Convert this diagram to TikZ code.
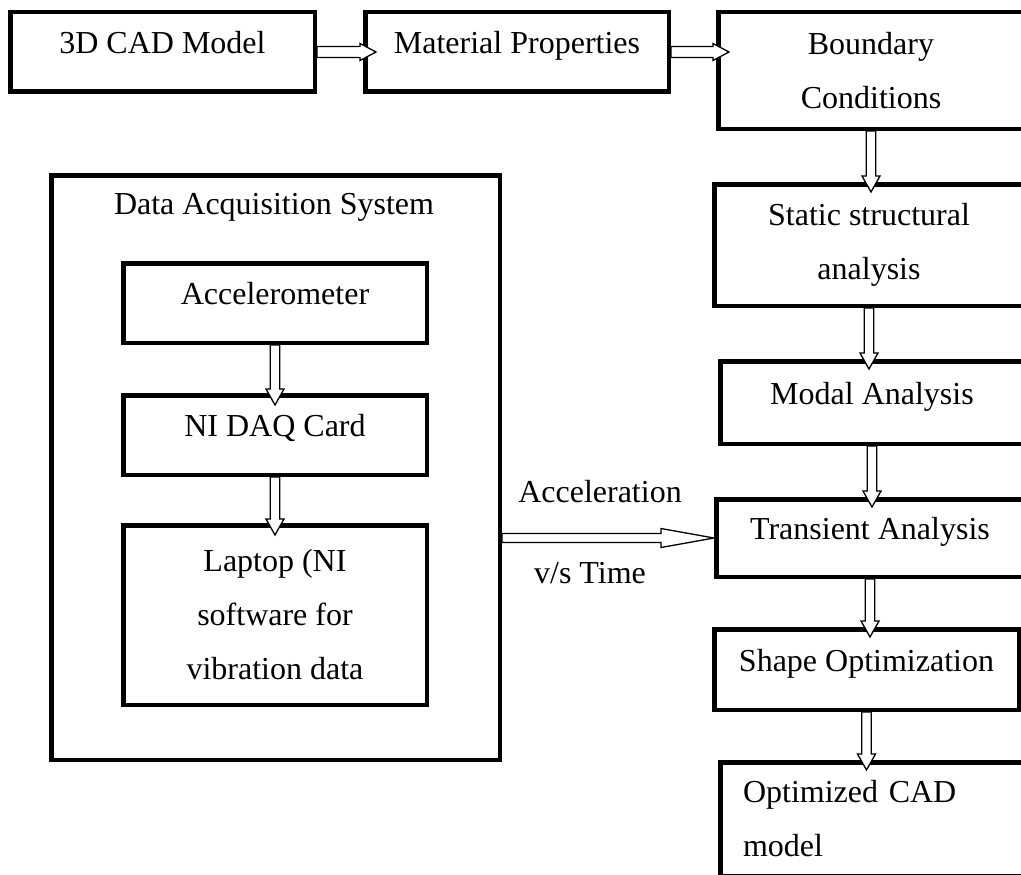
\documentclass[tikz,border=0pt]{standalone}
\usepackage{fontspec}
\setmainfont{Liberation Serif}
\usetikzlibrary{calc}

\begin{document}
\begin{tikzpicture}[
      x=1pt, y=-1pt,
      every node/.style={font=\fontsize{32}{54}\selectfont},
      box/.style={draw, line width=4.5pt, inner sep=0pt, align=center},
      sz/.style 2 args={minimum width=#1pt, minimum height=#2pt},
      one/.style={text height=22pt, text depth=19pt},
      % hollow block arrows: shaft half, head half, head length, overshoot
      harrow/.style n args={4}{draw, fill=white, line width=1.3pt, line join=miter,
        to path={let \p1=(\tikztostart), \p2=(\tikztotarget) in
          (\x1,\y1+#1) -- (\x2+#4-#3,\y1+#1) -- (\x2+#4-#3,\y1+#2) -- (\x2+#4,\y1)
          -- (\x2+#4-#3,\y1-#2) -- (\x2+#4-#3,\y1-#1) -- (\x1,\y1-#1) -- cycle}},
      varrow/.style n args={4}{draw, fill=white, line width=1.3pt, line join=miter,
        to path={let \p1=(\tikztostart), \p2=(\tikztotarget) in
          (\x1-#1,\y1) -- (\x1-#1,\y2-#4+#3) -- (\x1-#2,\y2-#4+#3) -- (\x1,\y2-#4)
          -- (\x1+#2,\y2-#4+#3) -- (\x1+#1,\y2-#4+#3) -- (\x1+#1,\y1) -- cycle}},
      flowh/.style={harrow={5.5pt}{8.5pt}{16pt}{13pt}},
      flowv/.style={varrow={4.8pt}{9pt}{16pt}{10pt}}
    ]
    \useasboundingbox (0,0) rectangle (1021,875);

    % Top row
    \node[box, one, sz={304.5}{79.5}] (cad) at (162.5,52) {3D CAD Model};
    \node[box, one, sz={303.5}{79.5}] (mat) at (517,52) {Material Properties};
    \node[box, sz={305.5}{116.5}] (bnd) at (871,70.5) {Boundary\\Conditions};

    % Simulation chain
    \node[box, sz={309.5}{121.5}] (stat) at (869,245) {Static structural\\analysis};
    \node[box, one, sz={303.5}{82.5}] (modal) at (872,402.5) {Modal Analysis};
    \node[box, one, sz={307.5}{77.5}] (trans) at (870,538) {Transient Analysis};
    \node[box, one, sz={304.5}{80.5}] (shape) at (866.5,669.5) {Shape Optimization};
    \node[box, sz={307.5}{113.5}, inner xsep=22.75pt, text width=262pt, align=left]
      (opt) at (874,819) {Optimized CAD\\model};

    % Data acquisition
    \node[box, sz={448.5}{584.5}] (daq) at (275.5,467.5) {};
    \node (daqtitle) at (274,207) {Data Acquisition System};
    \node[box, one, sz={303.5}{79.5}] (accel) at (275,303) {Accelerometer};
    \node[box, one, sz={303.5}{79.5}] (card) at (275,435) {NI DAQ Card};
    \node[box, sz={303.5}{179.5}] (laptop) at (275,615) {Laptop (NI\\software for\\vibration data};

    % Arrows
    \draw[flowh] (cad.east) to (mat.west);
    \draw[flowh] (mat.east) to (bnd.west);
    \draw[flowv] (bnd.south) to (stat.north);
    \draw[flowv] (stat.south) to (modal.north);
    \draw[flowv] (modal.south) to (trans.north);
    \draw[flowv] (trans.south) to (shape.north);
    \draw[flowv] (shape.south) to (opt.north);
    \draw[varrow={4.8pt}{9pt}{16pt}{12pt}] (accel.south) to (card.north);
    \draw[varrow={4.8pt}{9pt}{16pt}{12pt}] (card.south) to (laptop.north);
    \draw[harrow={4.5pt}{9.5pt}{53pt}{0pt}] (daq.east |- trans.west) to (trans.west);

    \node (acctop) at (600,492) {Acceleration};
    \node (accbot) at (590,573) {v/s Time};
  \end{tikzpicture}
\end{document}
